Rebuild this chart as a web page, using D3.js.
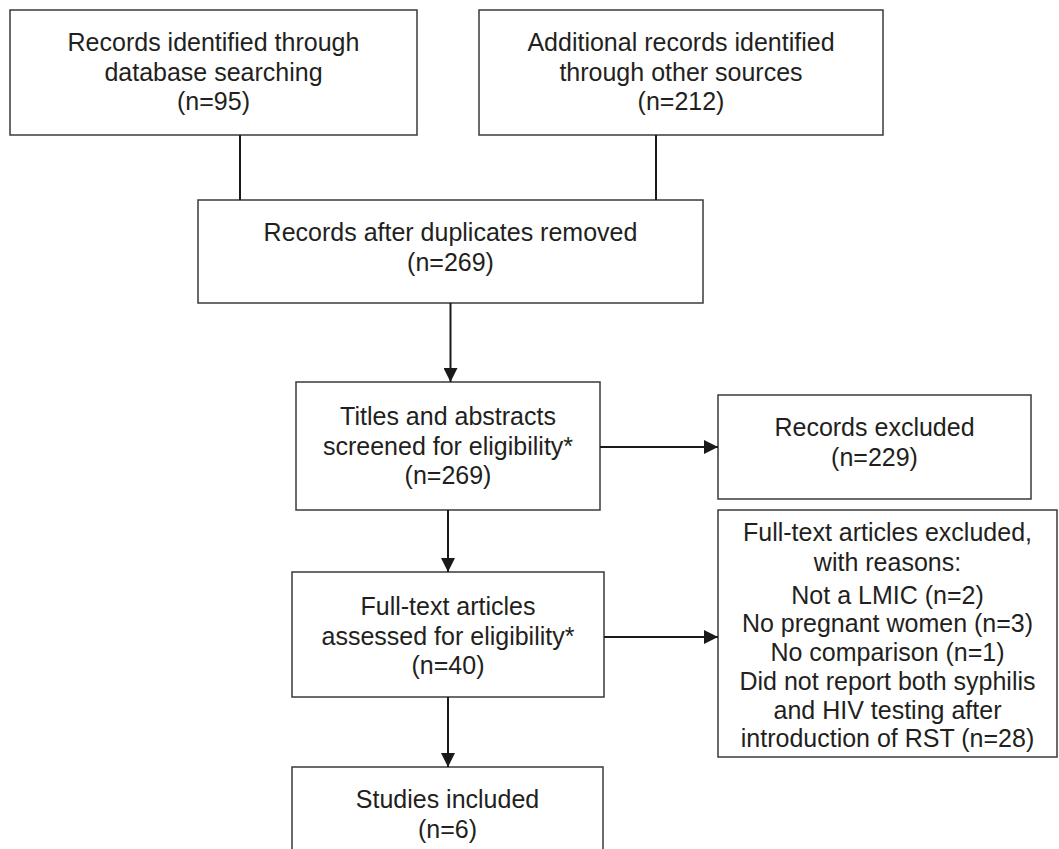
<!DOCTYPE html>
<html>
<head>
<meta charset="utf-8">
<script src="https://cdn.jsdelivr.net/npm/d3@7"></script>
<style>
  body { margin: 0; background: #fff; }
  text { font-family: 'Liberation Sans', Arial, Helvetica, sans-serif; fill: #231f20; }
</style>
</head>
<body>
<script>

// stage ids, labels and counts
var stages = ['database', 'other', 'deduped', 'screened', 'excluded', 'fulltext', 'ftExcluded', 'included'];
var labels = [
	['Records identified through', 'database searching'],
	['Additional records identified', 'through other sources'],
	['Records after duplicates removed'],
	['Titles and abstracts', 'screened for eligibility*'],
	['Records excluded'],
	['Full-text articles', 'assessed for eligibility*'],
	['Full-text articles excluded,', 'with reasons:'],
	['Studies included']
];
var counts = [95, 212, 269, 269, 229, 40, null, 6];

var reasons = [
	['Not a LMIC'],
	['No pregnant women'],
	['No comparison'],
	['Did not report both syphilis', 'and HIV testing after', 'introduction of RST']
];
var reasonCounts = [2, 3, 1, 28];

// links between stages: [from, to, kind]
var links = [
	['database', 'deduped', 'line'],
	['other', 'deduped', 'line'],
	['deduped', 'screened', 'down'],
	['screened', 'excluded', 'right'],
	['screened', 'fulltext', 'down'],
	['fulltext', 'ftExcluded', 'right'],
	['fulltext', 'included', 'down']
];

// page layout (box edges, text block centre, hook x for plain lines)
var layout = {
	database:   { x0: 10,  x1: 417,  y0: 10,  y1: 135, ty: 72,  hook: 240 },
	other:      { x0: 479, x1: 883,  y0: 10,  y1: 135, ty: 72,  hook: 656 },
	deduped:    { x0: 198, x1: 703,  y0: 200, y1: 303, ty: 247 },
	screened:   { x0: 296, x1: 600,  y0: 382, y1: 510, ty: 446 },
	excluded:   { x0: 718, x1: 1031, y0: 395, y1: 499, ty: 442 },
	fulltext:   { x0: 292, x1: 604,  y0: 572, y1: 697, ty: 636 },
	ftExcluded: { x0: 718, x1: 1057, y0: 510, y1: 757, ty: 532 },
	included:   { x0: 292, x1: 603,  y0: 767, y1: 880, ty: 814 }
};

var lineH = 29.5;

var svg = d3.select('body').append('svg')
	.attr('width', 1059)
	.attr('height', 849);

svg.append('defs').append('marker')
	.attr('id', 'head')
	.attr('markerUnits', 'userSpaceOnUse')
	.attr('viewBox', '0 0 14 14')
	.attr('refX', 14)
	.attr('refY', 7)
	.attr('markerWidth', 14)
	.attr('markerHeight', 14)
	.attr('orient', 'auto')
	.append('path')
	.attr('d', 'M0,0 L14,7 L0,14 Z')
	.attr('fill', '#1a1a1a');

// build text lines for each box
var boxes = stages.map(function(id, i) {
	var lines = labels[i].slice();
	if (counts[i] !== null) lines.push('(n=' + counts[i] + ')');
	return { id: id, lines: lines, box: layout[id] };
});

// BOXES
svg.selectAll('rect.box')
	.data(boxes)
	.enter().append('rect')
	.attr('class', 'box')
	.attr('x', function(d) { return d.box.x0; })
	.attr('y', function(d) { return d.box.y0; })
	.attr('width', function(d) { return d.box.x1 - d.box.x0; })
	.attr('height', function(d) { return d.box.y1 - d.box.y0; })
	.attr('fill', '#fff')
	.attr('stroke', '#3a3a3a')
	.attr('stroke-width', 1.5);

// LABELS (centred block, except the reasons box which runs from the top)
boxes.forEach(function(d) {
	var b = d.box;
	var cx = (b.x0 + b.x1) / 2;
	var ys;
	if (d.id === 'ftExcluded') {
		ys = d.lines.map(function(l, k) { return b.ty + k * 30; });
	} else {
		var start = b.ty - (d.lines.length - 1) * lineH / 2;
		ys = d.lines.map(function(l, k) { return start + k * lineH; });
	}
	svg.append('g').selectAll('text')
		.data(d.lines)
		.enter().append('text')
		.attr('x', cx)
		.attr('y', function(l, k) { return ys[k]; })
		.attr('dy', '0.35em')
		.attr('text-anchor', 'middle')
		.attr('font-size', 25)
		.text(function(l) { return l; });
});

// exclusion reasons under the header of the ftExcluded box
var rb = layout.ftExcluded;
var reasonLines = [];
reasons.forEach(function(r, i) {
	r.forEach(function(part, k) {
		var t = part;
		if (k === r.length - 1) t += ' (n=' + reasonCounts[i] + ')';
		reasonLines.push(t);
	});
});
svg.append('g').selectAll('text')
	.data(reasonLines)
	.enter().append('text')
	.attr('x', (rb.x0 + rb.x1) / 2)
	.attr('y', function(l, k) { return rb.ty + 63 + k * 28.7; })
	.attr('dy', '0.35em')
	.attr('text-anchor', 'middle')
	.attr('font-size', 25)
	.text(function(l) { return l; });

// CONNECTORS
links.forEach(function(lk) {
	var a = layout[lk[0]], b = layout[lk[1]];
	var x1, y1, x2, y2;
	if (lk[2] === 'line') {
		x1 = x2 = a.hook; y1 = a.y1; y2 = b.y0;
	} else if (lk[2] === 'down') {
		x1 = x2 = (a.x0 + a.x1) / 2; y1 = a.y1; y2 = b.y0;
	} else {
		x1 = a.x1; x2 = b.x0; y1 = y2 = a.ty + 1;
	}
	var ln = svg.append('line')
		.attr('x1', x1).attr('y1', y1)
		.attr('x2', x2).attr('y2', y2)
		.attr('stroke', '#1a1a1a')
		.attr('stroke-width', 2);
	if (lk[2] !== 'line') ln.attr('marker-end', 'url(#head)');
});

</script>
</body>
</html>
